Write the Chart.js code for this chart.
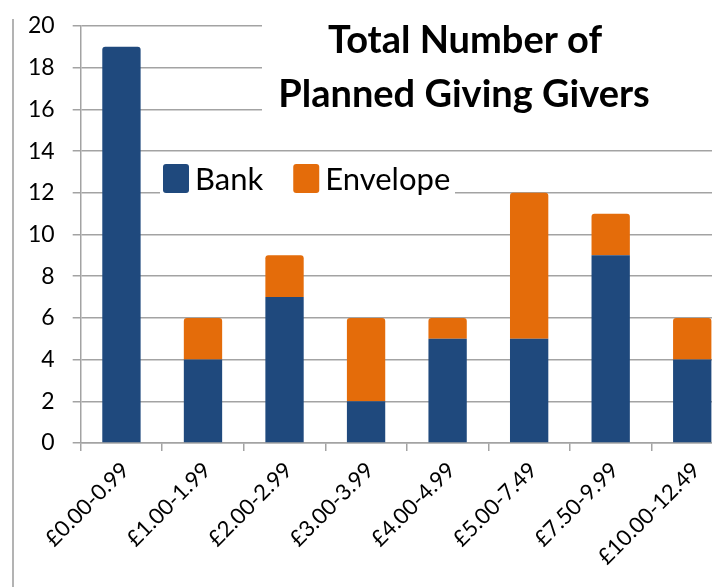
<!DOCTYPE html>
<html>
<head>
<meta charset="utf-8">
<script src="https://cdn.jsdelivr.net/npm/chart.js@4/dist/chart.umd.min.js"></script>
<style>
  html, body { margin: 0; padding: 0; background: #fff; overflow: hidden; }
  #wrap { position: relative; width: 733px; height: 587px; }
  #edge { position: absolute; left: 12px; top: 19px; bottom: 0; width: 2px; background: #b3b3b3; }
  canvas { display: block; }
</style>
</head>
<body>
<div id="wrap">
  <div id="edge"></div>
  <canvas id="myChart" width="733" height="587"></canvas>
</div>
<script>
// data
var bands = ["£0.00-0.99", "£1.00-1.99", "£2.00-2.99", "£3.00-3.99",
             "£4.00-4.99", "£5.00-7.49", "£7.50-9.99", "£10.00-12.49"];
var bank = [19, 4, 7, 2, 5, 5, 9, 4];
var envelope = [0, 2, 2, 4, 1, 7, 2, 2];
var yTicks = [0, 2, 4, 6, 8, 10, 12, 14, 16, 18, 20];
var titleLines = ["Total Number of", "Planned Giving Givers"];

var gridGrey = "#a3a3a3";
var font = "Lato, 'Open Sans', sans-serif";

// title and legend sit inside the plot on a white patch, like the Excel original
var insideLabels = {
    id: 'insideLabels',
    afterDraw: function (chart) {
        var ctx = chart.ctx;
        ctx.save();
        // title
        ctx.fillStyle = "#fff";
        ctx.fillRect(262, 14, 480, 110);
        ctx.fillStyle = "#000";
        ctx.font = "bold 38px " + font;
        ctx.textAlign = "center";
        ctx.textBaseline = "alphabetic";
        ctx.fillText(titleLines[0], 465, 53);
        ctx.fillText(titleLines[1], 464, 107);

        // legend
        ctx.fillStyle = "#fff";
        ctx.fillRect(160, 160, 295, 38);
        ctx.font = "31px " + font;
        ctx.textAlign = "left";
        var x = 163;
        chart.data.datasets.forEach(function (ds) {
            ctx.fillStyle = ds.backgroundColor;
            ctx.beginPath();
            ctx.roundRect(x, 164, 26, 29, 3);
            ctx.fill();
            ctx.fillStyle = "#000";
            ctx.fillText(ds.label, x + 32, 190);
            x += 32 + ctx.measureText(ds.label).width + 30;
        });
        ctx.restore();
    }
};

var givingChart = new Chart(document.getElementById("myChart"), {
    type: 'bar',
    data: {
        labels: bands,
        datasets: [{
            label: "Bank",
            data: bank,
            backgroundColor: "#1F497D",
            borderRadius: function (c) { return envelope[c.dataIndex] === 0 ? 3 : 0; }
        }, {
            label: "Envelope",
            data: envelope,
            backgroundColor: "#E46C0A",
            borderRadius: 3
        }]
    },
    plugins: [insideLabels],
    options: {
        responsive: false,
        animation: false,
        layout: { padding: { left: 10, top: 26, right: 0, bottom: 11 } },
        datasets: { bar: { categoryPercentage: 1, barPercentage: 0.47 } },
        plugins: {
            legend: { display: false },
            title: { display: false },
            tooltip: { enabled: false }
        },
        scales: {
            x: {
                stacked: true,
                grid: { drawOnChartArea: false, color: gridGrey, lineWidth: 1.5, tickLength: 8 },
                border: { color: gridGrey, width: 1.5 },
                ticks: {
                    minRotation: 45, maxRotation: 45, padding: 6, labelOffset: 4,
                    color: "#000", font: { family: font, size: 22 }
                }
            },
            y: {
                stacked: true,
                min: 0, max: 20,
                afterBuildTicks: function (axis) {
                    axis.ticks = yTicks.map(function (v) { return { value: v }; });
                },
                // the wide label gap should not push the plot down
                afterFit: function (axis) {
                    axis.paddingTop = 0;
                    axis.paddingBottom = 0;
                },
                grid: { color: gridGrey, lineWidth: 1.5, tickLength: 8 },
                border: { color: gridGrey, width: 1.5 },
                ticks: { padding: 18, color: "#000", font: { family: font, size: 23 } }
            }
        }
    }
});
</script>
</body>
</html>
